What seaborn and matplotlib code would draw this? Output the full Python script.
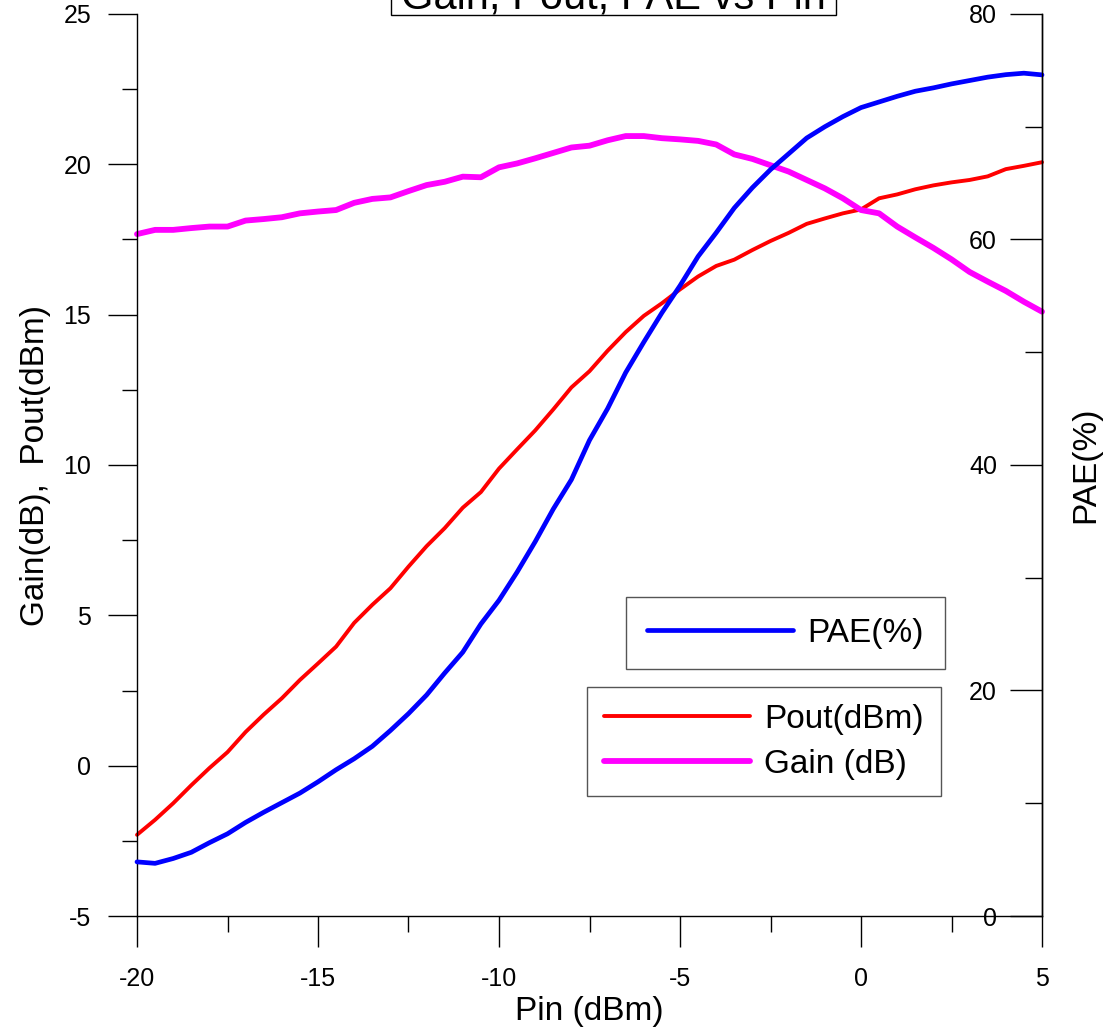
import matplotlib
matplotlib.use("Agg")
import matplotlib.pyplot as plt
import numpy as np
import pandas as pd
import seaborn as sns
from matplotlib.ticker import MultipleLocator
from matplotlib.patches import Rectangle

# ---------------- data ----------------
pin = [-20.0, -19.5, -19.0, -18.5, -18.0, -17.5, -17.0, -16.5, -16.0, -15.5,
       -15.0, -14.5, -14.0, -13.5, -13.0, -12.5, -12.0, -11.5, -11.0, -10.5,
       -10.0, -9.5, -9.0, -8.5, -8.0, -7.5, -7.0, -6.5, -6.0, -5.5,
       -5.0, -4.5, -4.0, -3.5, -3.0, -2.5, -2.0, -1.5, -1.0, -0.5,
       0.0, 0.5, 1.0, 1.5, 2.0, 2.5, 3.0, 3.5, 4.0, 4.5, 5.0]

gain = [17.68, 17.82, 17.82, 17.88, 17.93, 17.93, 18.13, 18.18, 18.24, 18.37,
        18.43, 18.48, 18.72, 18.85, 18.90, 19.11, 19.31, 19.42, 19.59, 19.57,
        19.90, 20.03, 20.20, 20.38, 20.56, 20.62, 20.80, 20.94, 20.94, 20.87,
        20.83, 20.78, 20.66, 20.33, 20.18, 19.97, 19.76, 19.48, 19.20, 18.87,
        18.48, 18.37, 17.93, 17.57, 17.22, 16.84, 16.42, 16.10, 15.79, 15.43,
        15.10]

pout = [-2.30, -1.80, -1.25, -0.65, -0.08, 0.45, 1.12, 1.70, 2.24, 2.85,
        3.40, 3.96, 4.75, 5.35, 5.90, 6.62, 7.30, 7.90, 8.58, 9.10,
        9.88, 10.52, 11.15, 11.85, 12.58, 13.12, 13.80, 14.42, 14.96, 15.38,
        15.84, 16.27, 16.62, 16.83, 17.15, 17.45, 17.72, 18.02, 18.20, 18.37,
        18.50, 18.87, 19.00, 19.17, 19.30, 19.40, 19.48, 19.60, 19.84, 19.95,
        20.07]

pae = [4.80, 4.67, 5.10, 5.65, 6.50, 7.29, 8.30, 9.20, 10.05, 10.90,
       11.90, 12.97, 13.95, 15.05, 16.45, 17.95, 19.60, 21.55, 23.40, 25.90,
       28.00, 30.50, 33.20, 36.10, 38.70, 42.20, 45.00, 48.20, 50.90, 53.50,
       55.90, 58.50, 60.60, 62.80, 64.60, 66.20, 67.60, 69.00, 70.00, 70.90,
       71.70, 72.20, 72.70, 73.15, 73.45, 73.80, 74.10, 74.40, 74.62, 74.75,
       74.60]

x_ticks = [-20, -15, -10, -5, 0, 5]
left_ticks = [-5, 0, 5, 10, 15, 20, 25]
right_ticks = [0, 20, 40, 60, 80]

title_text = "Gain, Pout, PAE vs Pin"
x_label = "Pin (dBm)"
left_label = "Gain(dB),  Pout(dBm)"
right_label = "PAE(%)"
pae_name = "PAE(%)"
pout_name = "Pout(dBm)"
gain_name = "Gain (dB)"

# ---------------- styling ----------------
sns.set_theme(style="ticks")
plt.rcParams["font.family"] = ["Liberation Sans", "DejaVu Sans"]
plt.rcParams["axes.unicode_minus"] = False
plt.rcParams["text.color"] = "black"
plt.rcParams["axes.labelcolor"] = "black"
plt.rcParams["legend.labelcolor"] = "black"

W, H = 1110, 1027
fig = plt.figure(figsize=(W / 100, H / 100), dpi=100)
ax = fig.add_axes([137 / W, 111 / H, 905 / W, 902 / H])
ax2 = ax.twinx()

df = pd.DataFrame({"Pin": pin, "Gain": gain, "Pout": pout, "PAE": pae})

RED, MAG, BLUE = "#FF0000", "#FF00FF", "#0000FF"
sns.lineplot(data=df, x="Pin", y="Pout", ax=ax, color=RED, linewidth=2.8,
             legend=False, solid_capstyle="round", clip_on=False)
sns.lineplot(data=df, x="Pin", y="Gain", ax=ax, color=MAG, linewidth=4.2,
             legend=False, solid_capstyle="round", clip_on=False)
sns.lineplot(data=df, x="Pin", y="PAE", ax=ax2, color=BLUE, linewidth=3.4,
             legend=False, solid_capstyle="round", clip_on=False)

ax.set_xlim(-20, 5)
ax.set_ylim(-5, 25)
ax2.set_ylim(0, 80)

ax.set_xticks(x_ticks)
ax.set_xticklabels([str(t) for t in x_ticks])
ax.xaxis.set_minor_locator(MultipleLocator(2.5))
ax.set_yticks(left_ticks)
ax.set_yticklabels([str(t) for t in left_ticks])
ax.yaxis.set_minor_locator(MultipleLocator(2.5))
ax2.set_yticks(right_ticks)
ax2.set_yticklabels([str(t) for t in right_ticks])
ax2.yaxis.set_minor_locator(MultipleLocator(10))

for a in (ax, ax2):
    a.grid(False)
    a.set_facecolor("none")
    a.spines["top"].set_visible(False)
    for s in ("left", "right", "bottom"):
        a.spines[s].set_color("black")
        a.spines[s].set_linewidth(1.0)
ax2.spines["left"].set_visible(False)
ax2.spines["bottom"].set_visible(False)

ax.tick_params(axis="y", which="major", direction="out", length=21, width=1.0,
               pad=12, labelsize=18, colors="black", left=True, right=False)
ax.tick_params(axis="y", which="minor", direction="out", length=10.5, width=1.0,
               left=True, right=False, colors="black")
ax.tick_params(axis="x", which="major", direction="out", length=22, width=1.0,
               pad=15, labelsize=18, colors="black", top=False)
ax.tick_params(axis="x", which="minor", direction="out", length=11.5, width=1.0,
               top=False, colors="black")
ax2.tick_params(axis="y", which="major", direction="in", length=23, width=1.0,
                pad=-32.4, labelsize=18, colors="black")
ax2.tick_params(axis="y", which="minor", direction="in", length=12, width=1.0,
                colors="black")
for lab in ax2.get_yticklabels():
    lab.set_horizontalalignment("right")

ax.set_xlabel(x_label, fontsize=24, color="black")
ax.xaxis.set_label_coords(0.5, -0.0885)
ax.set_ylabel(left_label, fontsize=24, color="black")
ax.yaxis.set_label_coords(-0.095, 0.5)
ax2.set_ylabel(right_label, fontsize=24, color="black")
ax2.yaxis.set_label_coords(1.031, 0.5)

# ---------------- legends ----------------
l_pout, l_gain = ax.get_lines()[0], ax.get_lines()[1]
l_pae = ax2.get_lines()[0]

leg1 = ax2.legend([l_pae], [pae_name], loc="upper left",
                  bbox_to_anchor=(626 / W, 1 - 597 / H), bbox_transform=fig.transFigure,
                  fontsize=24, frameon=True, fancybox=False, framealpha=1,
                  edgecolor="#555555", facecolor="white", handlelength=4.4,
                  handletextpad=0.42, borderpad=0.62, borderaxespad=0,
                  labelcolor="black")
leg1.get_frame().set_linewidth(1.0)

leg2 = ax2.legend([l_pout, l_gain], [pout_name, gain_name], loc="upper left",
                  bbox_to_anchor=(587 / W, 1 - 687 / H), bbox_transform=fig.transFigure,
                  fontsize=24, frameon=True, fancybox=False, framealpha=1,
                  edgecolor="#555555", facecolor="white", handlelength=4.4,
                  handletextpad=0.42, borderpad=0.5, labelspacing=0.42,
                  borderaxespad=0, labelcolor="black")
leg2.get_frame().set_linewidth(1.0)
ax2.add_artist(leg1)

# ---------------- title box (cut off at the top, as in the reference) ----------------
fig.patches.append(Rectangle((391 / W, 1 - 15 / H), (836 - 391) / W, 40 / H,
                             transform=fig.transFigure, facecolor="white",
                             edgecolor="black", linewidth=1.0, clip_on=False))
fig.text((391 + 836) / 2 / W, 1 - 8 / H, title_text, fontsize=30,
         ha="center", va="baseline", color="black")

fig.savefig("out.png", dpi=100)
